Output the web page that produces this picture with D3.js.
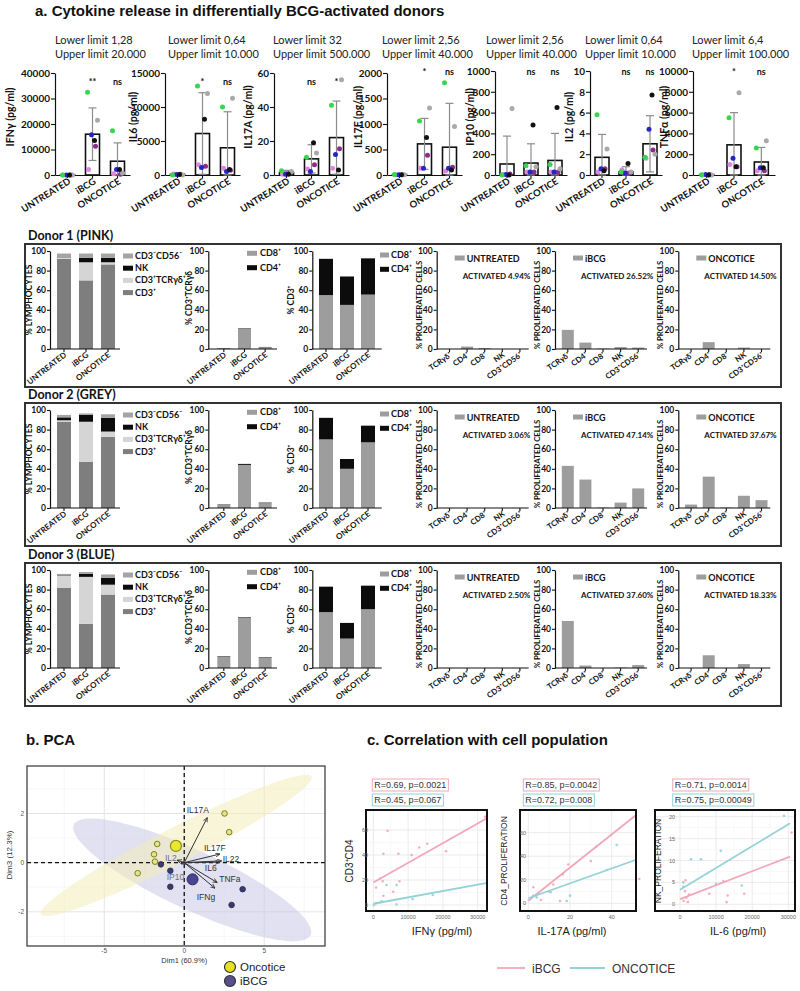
<!DOCTYPE html>
<html><head><meta charset="utf-8">
<script src="https://cdn.jsdelivr.net/npm/d3@7"></script>
<style>body{margin:0;background:#fff}svg{display:block}</style>
</head><body>
<svg id="c" width="800" height="991"></svg>
<script>
// ---------------- DATA ----------------
const treatments = ["UNTREATED","iBCG","ONCOTICE"];
const cytokines = ["IFNγ","IL6","IL17A","IL17F","IP10","IL2","TNFα"];
const lowerLimits = ["1,28","0,64","32","2,56","2,56","0,64","6,4"];
const upperLimits = ["20.000","10.000","500.000","40.000","40.000","10.000","100.000"];
const cytoMax = [40000,15000,60,2000,1000,10,10000];
const cytoStep = [10000,5000,20,500,200,2,2000];
const cytoMean = [[60,16000,5400],[100,6100,4000],[1.5,9.5,22],[10,610,545],[106,115,140],[1.7,0.3,3.0],[40,2900,1250]];
const cytoSD = [[80,10300,7200],[90,6000,5300],[1.2,8.3,21.5],[10,500,860],[268,185,260],[2.2,0.5,2.7],[50,3100,1400]];
const cytoSig = [["","**","ns"],["","*","ns"],["","ns","*"],["","*","ns"],["","ns","ns"],["","ns","ns"],["","*","ns"]];
const donorDotColors = ["#df86df","#8e2c8e","#2626c4","#a9a9a9","#35d84c","#111111"];
// [cytokine][treatment][donor: pink, purple, blue, grey, green, black]
const cytoDots = [
  [[0,0,0,0,0,0],[2200,11300,15800,21500,32500,13500],[500,300,2200,800,17400,2200]],
  [[150,100,80,0,0,60],[1500,1300,1100,12000,13100,8200],[1000,700,500,11300,10000,800]],
  [[0.5,1,0.5,2,2.5,0.5],[3.5,6,2,13,10.5,19],[4,15.5,12,56,41,3]],
  [[5,5,5,5,10,5],[130,385,130,1313,1058,737],[80,150,130,950,1808,100]],
  [[5,10,5,640,0,0],[30,30,30,80,90,480],[30,30,30,60,100,650]],
  [[0.3,0.6,0.6,2.5,5.8,0.4],[0.5,0.2,0.2,0.3,0.3,1.1],[1.6,2.4,4.4,2.0,1.7,7.7]],
  [[0,50,50,0,20,0],[1000,800,1600,7900,5500,800],[400,400,700,3300,2600,700]]
];

const donorLabels = ["Donor 1 (PINK)","Donor 2 (GREY)","Donor 3 (BLUE)"];
const lymphKeys = ["CD3⁺","CD3⁺TCRγδ⁺","NK","CD3⁻CD56⁻"];
const lymphColors = ["#7e7e7e","#d5d5d5","#0c0c0c","#a4a4a4"];
// [donor][treatment][CD3+, TCRgd, NK, CD3-CD56-]
const lymph = [
  [[92,1.5,0.3,3.6],[70,18.5,4.5,4.4],[86.3,2.2,4.5,4.4]],
  [[88,1.5,3,2.5],[47,41,7,1.5],[72.6,5.4,14,3.6]],
  [[82,12.5,0.8,0.7],[45,48,3,2],[75,10,7,3.5]]
];
const subsetKeys = ["CD8⁺","CD4⁺"];
const subsetColors = ["#9d9d9d","#0c0c0c"];
const gdVals = [
  [[0.8,0.2],[20.5,0.5],[1.8,0.3]],
  [[3,0.5],[44,1],[5,0.5]],
  [[11.5,0.5],[51.5,0.5],[10.5,0.5]]
];
const cd3Vals = [
  [[55,37],[45,29],[55.5,37]],
  [[70,22],[40,10],[67,17]],
  [[57,26],[30,16],[60,24]]
];
const prolifCats = ["TCRγδ⁺","CD4⁺","CD8⁺","NK","CD3⁺CD56⁺"];
// [donor][treatment][cat]
const prolif = [
  [[0,2.5,1,0,0],[19.5,6.5,0.5,2,1.5],[0,7,0,1.5,0]],
  [[0,0,0,0,0],[43,29,0.5,5.5,20],[3.5,32,0.5,12.5,8]],
  [[0,0,0,0,0],[48,2.5,0,0.5,3],[0,13,0,4,0]]
];
const activated = [["4.94%","26.52%","14.50%"],["3.06%","47.14%","37.67%"],["2.50%","37.60%","18.33%"]];

// PCA
const pcaOnco = [[2.52,2.0],[2.81,1.24],[-1.69,0.76],[-1.89,0.34],[-1.83,0.04],[-2.91,-0.43]];
const pcaBCG = [[-1.46,-0.07],[-0.87,-0.33],[-0.87,-0.98],[3.65,-1.08],[2.96,-1.72]];
const pcaOncoMean = [-0.52,0.68];
const pcaBCGMean = [0.52,-0.68];
const pcaVars = ["IL17A","IL17F","IL22","IL6","TNFa","IFNg","IL2","IP10"];
const pcaLoad = [[1.44,1.83],[2.23,0.35],[2.34,0.07],[2.23,0.02],[2.06,-0.81],[1.92,-1.04],[-0.45,0.1],[-0.2,-0.05]];
const pcaLabelPos = [[0.15,2.14],[1.23,0.61],[2.4,0.14],[1.29,-0.23],[2.19,-0.66],[0.78,-1.38],[-1.21,0.18],[-1.1,-0.57]];
// ellipse: centre, semi-axis vector a, semi-axis vector b (data units)
const ellOnco = [[-0.5,0.7],[8.46,2.8],[0.5,-0.64]];
const ellBCG = [[0.5,-0.7],[7.4,-2.24],[-0.75,-1.1]];

// Correlations
const corrXLabels = ["IFNγ (pg/ml)","IL-17A (pg/ml)","IL-6 (pg/ml)"];
const corrYLabels = ["CD3⁺CD4","CD4_PROLIFERATION","NK_PROLIFERATION"];
const corrStatsBCG = ["R=0.69, p=0.0021","R=0.85, p=0.0042","R=0.71, p=0.0014"];
const corrStatsOnco = ["R=0.45, p=0.067","R=0.72, p=0.008","R=0.75, p=0.00049"];
const corrXTicks = [[0,10000,20000,30000],[0,20,40],[0,10000,20000,30000]];
const corrYTicks = [[0,20,40,60],[0,20,40,60],[0,5,10,15,20]];
const corrFitBCG = [[[0,18],[32400,69]],[[0,2.2],[51.7,75]],[[0,1.2],[30500,10.9]]];
const corrFitOnco = [[[0,1],[32400,17.5]],[[0,4.3],[51.7,37]],[[0,3.3],[30500,18.5]]];
const corrPtsBCG = [
  [[32100,70.6],[20900,43],[15500,49],[13200,46],[11000,40],[7200,41],[2900,41],[4100,59.4],[1900,21],[780,14],[2900,7.4],[5700,10.6],[7500,19],[2700,19]],
  [[32.5,48],[30,36],[19.2,33],[16.5,24.6],[12,16],[6.1,2.8],[2.4,13.6],[15.2,2],[53.2,20.6],[4.8,8.5],[10,9.9]],
  [[30900,16.4],[12000,5.3],[8100,2.4],[13200,2],[12900,0.5],[17800,2.4],[1400,3],[1800,1.5],[2500,2.2],[1000,0.8],[2200,0.5],[1500,5.5]]
];
const corrPtsOnco = [
  [[6700,16],[3800,16],[6700,0.5],[11300,4.8],[17100,8],[780,1.4],[2000,2],[2500,3],[200,0]],
  [[42.4,49.5],[37.6,28.3],[10.7,9.3],[2.4,6.5],[18.4,2],[20,6.5],[4,5]],
  [[28800,20.2],[11300,12.2],[5800,10.3],[3050,10.3],[10000,4.6],[17100,4.3],[900,5],[900,4]]
];

// ---------------- DRAW ----------------
const svg = d3.select("#c");
const FL = "Lato, 'Open Sans', 'DejaVu Sans', sans-serif";
const FA = "'Liberation Sans', Arial, sans-serif";

function styleAxis(a, fs, fw, ff, col){
  a.attr("font-size",null).attr("font-family",null);
  a.select(".domain").attr("stroke","#111").attr("stroke-width",1.2);
  a.selectAll(".tick line").attr("stroke","#111").attr("stroke-width",1.1);
  a.selectAll(".tick text").attr("font-size",fs).attr("font-weight",fw).attr("font-family",ff).attr("fill",col||"#111");
}
function text(g,x,y,s,o={}){
  const t=g.append("text").attr("x",x).attr("y",y).text(s)
    .attr("font-family",o.ff||FL).attr("font-size",o.fs||10).attr("font-weight",o.fw||"normal")
    .attr("fill",o.fill||"#111").attr("text-anchor",o.anchor||"start");
  if(o.rot!==undefined){t.attr("x",null).attr("y",null).attr("transform",`translate(${x},${y}) rotate(${o.rot})`);}
  return t;
}

// Section titles
text(svg,35,16,"a. Cytokine release in differentially BCG-activated donors",{ff:FA,fs:15,fw:"bold"});
text(svg,26,745,"b. PCA",{ff:FA,fs:15,fw:"bold"});
text(svg,367,745,"c. Correlation with cell population",{ff:FA,fs:15,fw:"bold"});

// ----- cytokine panels -----
const CL = {x0:[55,165,274,387,495,590,693], w:[75,75,75,75,72,72,82], top:[73,73,73,73,71,71,71],
  bottom:175, limX:[55,168,273,382,486,585,692], ylabX:[14,137,252,362,474,573,668], sigY:[85,85,85,75,75,75,75]};
const dotJitter = [-4,3,-1,5,-5,2];
cytokines.forEach((name,i)=>{
  const g = svg.append("g");
  const x0 = CL.x0[i], w = CL.w[i], B = CL.bottom;
  const y = d3.scaleLinear().domain([0,cytoMax[i]]).range([B, CL.top[i]]);
  const x = d3.scaleBand().domain(treatments).range([x0, x0+w]);
  const cx = t => x(t)+x.bandwidth()/2;
  text(g,CL.limX[i],44,"Lower limit "+lowerLimits[i],{fs:11,fill:"#222"});
  text(g,CL.limX[i],58,"Upper limit "+upperLimits[i],{fs:11,fill:"#222"});
  const ya = g.append("g").attr("transform",`translate(${x0},0)`)
    .call(d3.axisLeft(y).tickValues(d3.range(0,cytoMax[i]+1e-9,cytoStep[i])).tickSize(4).tickSizeOuter(0).tickPadding(1).tickFormat(d3.format("d")));
  styleAxis(ya,10,"bold",FL);
  const xa = g.append("g").attr("transform",`translate(0,${B})`)
    .call(d3.axisBottom(x).tickSize(3).tickSizeOuter(0).tickFormat(""));
  styleAxis(xa,9,"bold",FL);
  treatments.forEach((t,j)=>{
    const m = cytoMean[i][j], sd = cytoSD[i][j];
    g.append("rect").attr("x",cx(t)-7).attr("width",14).attr("y",y(m)).attr("height",B-y(m))
      .attr("fill","none").attr("stroke","#111").attr("stroke-width",1.6);
    const lo = Math.max(0,m-sd), hi = m+sd;
    g.append("line").attr("x1",cx(t)).attr("x2",cx(t)).attr("y1",y(lo)).attr("y2",y(hi)).attr("stroke","#8c8c8c").attr("stroke-width",1.2);
    [lo,hi].forEach(v=>g.append("line").attr("x1",cx(t)-4).attr("x2",cx(t)+4).attr("y1",y(v)).attr("y2",y(v)).attr("stroke","#8c8c8c").attr("stroke-width",1.2));
    cytoDots[i][j].forEach((v,k)=>{
      g.append("circle").attr("cx",cx(t)+dotJitter[k]).attr("cy",y(v)).attr("r",2.5).attr("fill",donorDotColors[k]);
    });
    if(cytoSig[i][j]) text(g,cx(t),CL.sigY[i],cytoSig[i][j],{fs:9,fw:"bold",anchor:"middle"});
    text(g,cx(t)+4,B+8,t,{fs:9.5,fw:"bold",anchor:"end",rot:-32});
  });
  text(g,CL.ylabX[i],117,name+" (pg/ml)",{fs:10.5,fw:"bold",anchor:"middle",rot:-90});
});

// ----- donor rows -----
const donorTop = [244,403,563];
function stacked(g,T,o){
  const y = d3.scaleLinear().domain([0,100]).range([T+105,T+7]);
  const x = d3.scaleBand().domain(o.cats).range([o.r0,o.r1]);
  const rows = o.values.map((v,i)=>{const r={cat:o.cats[i]}; o.keys.forEach((k,j)=>r[k]=v[j]); return r;});
  const series = d3.stack().keys(o.keys)(rows);
  series.forEach((s,j)=>s.forEach(d=>{
    g.append("rect").attr("x",x(d.data.cat)+x.bandwidth()/2-o.barW/2).attr("width",o.barW)
      .attr("y",y(d[1])).attr("height",Math.max(0,y(d[0])-y(d[1]))).attr("fill",o.colors[j]);
  }));
  const ya = g.append("g").attr("transform",`translate(${o.axisX},0)`)
    .call(d3.axisLeft(y).tickValues(d3.range(0,101,20)).tickSize(3).tickSizeOuter(0).tickPadding(1));
  styleAxis(ya,8.5,"bold",FL);
  g.append("line").attr("x1",o.axisX).attr("x2",o.xEnd).attr("y1",y(0)).attr("y2",y(0)).attr("stroke","#111").attr("stroke-width",1.2);
  o.cats.forEach(c=>{
    const cx = x(c)+x.bandwidth()/2;
    g.append("line").attr("x1",cx).attr("x2",cx).attr("y1",y(0)).attr("y2",y(0)+3).attr("stroke","#111").attr("stroke-width",1.1);
    text(g,cx+3,y(0)+7,c,{fs:o.labFs||8,fw:"bold",anchor:"end",rot:o.rot||-38});
  });
  text(g,o.ylabX,T+o.ylabY,o.ylab,{fs:o.ylabFs||8.5,fw:"bold",anchor:"middle",rot:-90});
}
donorLabels.forEach((lab,d)=>{
  const T = donorTop[d];
  const g = svg.append("g");
  text(g,28,T-4,lab,{fs:12.5,fw:"bold"});
  g.append("rect").attr("x",25).attr("y",T).attr("width",756).attr("height",143).attr("fill","none").attr("stroke","#333").attr("stroke-width",2);
  // lymphocytes
  stacked(g,T,{cats:treatments,keys:lymphKeys,values:lymph[d],colors:lymphColors,r0:53,r1:119,barW:14,axisX:50,xEnd:120,ylab:"% LYMPHOCYTES",ylabX:32,ylabY:56});
  [3,2,1,0].forEach((k,n)=>{
    g.append("rect").attr("x",123).attr("y",T+12+n*12.2-2.5).attr("width",10).attr("height",5).attr("fill",lymphColors[k]);
    text(g,135,T+12+n*12.2+3,lymphKeys[k],{fs:9,fw:"bold"});
  });
  // gamma delta
  stacked(g,T,{cats:treatments,keys:subsetKeys,values:gdVals[d],colors:subsetColors,r0:213.5,r1:275.5,barW:13,axisX:208.3,xEnd:277,ylab:"% CD3⁺TCRγδ",ylabX:192,ylabY:54});
  subsetKeys.forEach((k,n)=>{
    g.append("rect").attr("x",247).attr("y",T+9.3+n*14.4-2.5).attr("width",10).attr("height",5).attr("fill",subsetColors[n]);
    text(g,260,T+9.3+n*14.4+3,k,{fs:9,fw:"bold"});
  });
  // CD3
  stacked(g,T,{cats:treatments,keys:subsetKeys,values:cd3Vals[d],colors:subsetColors,r0:315.5,r1:378.5,barW:14,axisX:312.3,xEnd:381.7,ylab:"% CD3⁺",ylabX:294,ylabY:56});
  subsetKeys.forEach((k,n)=>{
    g.append("rect").attr("x",380).attr("y",T+11+n*14.3-2.5).attr("width",9).attr("height",5).attr("fill",subsetColors[n]);
    text(g,391,T+11+n*14.3+3,k,{fs:9,fw:"bold"});
  });
  // proliferation
  [436.7,555,678.3].forEach((ax,t)=>{
    stacked(g,T,{cats:prolifCats,keys:["value"],values:prolif[d][t].map(v=>[v]),colors:["#9d9d9d"],r0:ax+4,r1:ax+92,barW:12,axisX:ax,xEnd:ax+92,ylab:"% PROLIFERATED  CELLS",ylabX:ax-15,ylabY:61,ylabFs:7.8,rot:-35,labFs:7.8});
    g.append("rect").attr("x",ax+18).attr("y",T+14-2.5).attr("width",10).attr("height",5).attr("fill","#9d9d9d");
    text(g,ax+30,T+17.5,treatments[t],{fs:9,fw:"bold"});
    text(g,ax+26,T+35,"ACTIVATED "+activated[d][t],{fs:8,fw:"bold"});
  });
});

// ----- PCA -----
(function(){
  const g = svg.append("g");
  const X0=27,X1=325,Y0=766,Y1=946;
  const x = d3.scaleLinear().domain([-9.83,8.8]).range([X0,X1]);
  const y = d3.scaleLinear().domain([-3.39,3.93]).range([Y1,Y0]);
  g.append("rect").attr("x",X0).attr("y",Y0).attr("width",X1-X0).attr("height",Y1-Y0).attr("fill","#fff");
  [-7.5,-2.5,2.5,7.5].forEach(v=>g.append("line").attr("x1",x(v)).attr("x2",x(v)).attr("y1",Y0).attr("y2",Y1).attr("stroke","#f2f2f2").attr("stroke-width",0.6));
  [-3,-1,1,3].forEach(v=>g.append("line").attr("y1",y(v)).attr("y2",y(v)).attr("x1",X0).attr("x2",X1).attr("stroke","#f2f2f2").attr("stroke-width",0.6));
  [-5,0,5].forEach(v=>g.append("line").attr("x1",x(v)).attr("x2",x(v)).attr("y1",Y0).attr("y2",Y1).attr("stroke","#e4e4e4").attr("stroke-width",1));
  [-2,0,2].forEach(v=>g.append("line").attr("y1",y(v)).attr("y2",y(v)).attr("x1",X0).attr("x2",X1).attr("stroke","#e4e4e4").attr("stroke-width",1));
  function ell(e,fill,op){
    const pts = d3.range(0,2*Math.PI+0.01,0.05).map(t=>[e[0][0]+Math.cos(t)*e[1][0]+Math.sin(t)*e[2][0], e[0][1]+Math.cos(t)*e[1][1]+Math.sin(t)*e[2][1]]);
    g.append("path").attr("d",d3.line().x(p=>x(p[0])).y(p=>y(p[1]))(pts)+"Z").attr("fill",fill).attr("fill-opacity",op).attr("stroke","none");
  }
  ell(ellBCG,"#c9c9e6",0.55);
  ell(ellOnco,"#f2edb8",0.55);
  g.append("line").attr("x1",x(0)).attr("x2",x(0)).attr("y1",Y0).attr("y2",Y1).attr("stroke","#111").attr("stroke-width",1.3).attr("stroke-dasharray","4,3");
  g.append("line").attr("y1",y(0)).attr("y2",y(0)).attr("x1",X0).attr("x2",X1).attr("stroke","#111").attr("stroke-width",1.3).attr("stroke-dasharray","4,3");
  pcaOnco.forEach(p=>g.append("circle").attr("cx",x(p[0])).attr("cy",y(p[1])).attr("r",2.8).attr("fill","#e3e38a").attr("stroke","#7f7f1e").attr("stroke-width",1));
  pcaBCG.forEach(p=>g.append("circle").attr("cx",x(p[0])).attr("cy",y(p[1])).attr("r",2.8).attr("fill","#3d3a6a").attr("stroke","#2a2850").attr("stroke-width",0.8));
  g.append("circle").attr("cx",x(pcaOncoMean[0])).attr("cy",y(pcaOncoMean[1])).attr("r",5.5).attr("fill","#e9e92c").attr("stroke","#8d8d1e").attr("stroke-width",1.2);
  g.append("circle").attr("cx",x(pcaBCGMean[0])).attr("cy",y(pcaBCGMean[1])).attr("r",5.5).attr("fill","#4a4590").attr("stroke","#2d2a60").attr("stroke-width",1);
  svg.append("defs").append("marker").attr("id","ah").attr("viewBox","0 0 10 10").attr("refX",9).attr("refY",5)
    .attr("markerWidth",5).attr("markerHeight",5).attr("orient","auto").append("path").attr("d","M0,1 L9,5 L0,9").attr("fill","none").attr("stroke","#333").attr("stroke-width",1.6);
  pcaVars.forEach((v,i)=>{
    g.append("line").attr("x1",x(0)).attr("y1",y(0)).attr("x2",x(pcaLoad[i][0])).attr("y2",y(pcaLoad[i][1]))
      .attr("stroke","#333").attr("stroke-width",1).attr("marker-end","url(#ah)");
    const grey = (v==="IL2"||v==="IP10");
    text(g,x(pcaLabelPos[i][0]),y(pcaLabelPos[i][1])+3,v,{ff:FA,fs:8.5,fill:grey?"#6e6e80":"#333"});
  });
  g.append("rect").attr("x",X0).attr("y",Y0).attr("width",X1-X0).attr("height",Y1-Y0).attr("fill","none").attr("stroke","#333").attr("stroke-width",1.2);
  [-5,0,5].forEach(v=>text(g,x(v),953,String(v),{ff:FA,fs:6.5,fill:"#555",anchor:"middle"}));
  [-2,0,2].forEach(v=>text(g,24,y(v)+2.5,String(v),{ff:FA,fs:6.5,fill:"#555",anchor:"end"}));
  text(g,x(0),963,"Dim1 (60.9%)",{ff:FA,fs:7.5,fill:"#333",anchor:"middle"});
  text(g,12,855,"Dim3 (12.3%)",{ff:FA,fs:8,fill:"#333",anchor:"middle",rot:-90});
  g.append("circle").attr("cx",230).attr("cy",967).attr("r",5.5).attr("fill","#e6df22").attr("stroke","#333").attr("stroke-width",1.2);
  g.append("circle").attr("cx",230).attr("cy",981).attr("r",5.5).attr("fill","#5b4e8e").attr("stroke","#333").attr("stroke-width",1.2);
  text(g,240,971,"Oncotice",{ff:FA,fs:11.5,fill:"#222"});
  text(g,240,985,"iBCG",{ff:FA,fs:11.5,fill:"#222"});
})();

// ----- Correlations -----
const PINK="#f2a7b8", BLUE="#93d2d8";
const CP = [
  {bx0:366,bx1:487,xp:[373.3,477.7],yp:[905,830],ylX:353,xlX:442,ytX:368,rX:372.3},
  {bx0:520,bx1:636,xp:[528.3,611.7],yp:[903.3,832.7],ylX:507,xlX:572,ytX:526,rX:523.3},
  {bx0:655,bx1:795,xp:[680,788.3],yp:[904.3,816.7],ylX:661,xlX:738,ytX:675,rX:672.7}
];
corrXLabels.forEach((lab,i)=>{
  const g = svg.append("g"), L = CP[i];
  const xt = corrXTicks[i], yt = corrYTicks[i];
  const x = d3.scaleLinear().domain([0,xt[xt.length-1]]).range(L.xp);
  const y = d3.scaleLinear().domain([0,yt[yt.length-1]]).range(L.yp);
  const BY0=810, BY1=911;
  xt.forEach(v=>g.append("line").attr("x1",x(v)).attr("x2",x(v)).attr("y1",BY0).attr("y2",BY1).attr("stroke","#e6e6e6").attr("stroke-width",0.8));
  yt.forEach(v=>g.append("line").attr("y1",y(v)).attr("y2",y(v)).attr("x1",L.bx0).attr("x2",L.bx1).attr("stroke","#e6e6e6").attr("stroke-width",0.8));
  for(let k=0;k<xt.length-1;k++){const m=(xt[k]+xt[k+1])/2; g.append("line").attr("x1",x(m)).attr("x2",x(m)).attr("y1",BY0).attr("y2",BY1).attr("stroke","#f3f3f3").attr("stroke-width",0.6);}
  for(let k=0;k<yt.length-1;k++){const m=(yt[k]+yt[k+1])/2; g.append("line").attr("y1",y(m)).attr("y2",y(m)).attr("x1",L.bx0).attr("x2",L.bx1).attr("stroke","#f3f3f3").attr("stroke-width",0.6);}
  corrPtsBCG[i].forEach(p=>g.append("circle").attr("cx",x(p[0])).attr("cy",y(p[1])).attr("r",1.3).attr("fill",PINK).attr("opacity",0.9));
  corrPtsOnco[i].forEach(p=>g.append("circle").attr("cx",x(p[0])).attr("cy",y(p[1])).attr("r",1.3).attr("fill",BLUE).attr("opacity",0.9));
  const ln = d3.line().x(p=>x(p[0])).y(p=>y(p[1]));
  g.append("path").attr("d",ln(corrFitBCG[i])).attr("stroke",PINK).attr("stroke-width",1.8).attr("fill","none");
  g.append("path").attr("d",ln(corrFitOnco[i])).attr("stroke",BLUE).attr("stroke-width",1.8).attr("fill","none");
  g.append("rect").attr("x",L.bx0).attr("y",BY0).attr("width",L.bx1-L.bx0).attr("height",BY1-BY0).attr("fill","none").attr("stroke","#111").attr("stroke-width",2);
  xt.forEach(v=>text(g,x(v),919,String(v),{ff:FA,fs:5.5,fill:"#666",anchor:"middle"}));
  yt.forEach(v=>text(g,L.ytX,y(v)+2,String(v),{ff:FA,fs:5.5,fill:"#666",anchor:"end"}));
  text(g,L.xlX,935,lab,{ff:FA,fs:11,fill:"#222",anchor:"middle"});
  text(g,L.ylX,861,corrYLabels[i],{ff:FA,fs:i===0?10:8.5,fill:"#222",anchor:"middle",rot:-90});
  [[corrStatsBCG[i],PINK,785],[corrStatsOnco[i],BLUE,800]].forEach(([s,c,yy])=>{
    const t = text(g,L.rX+2,yy+3.2,s,{ff:FA,fs:9,fill:"#333"});
    const w = t.node().getComputedTextLength();
    g.insert("rect","text").attr("x",L.rX).attr("y",yy-6).attr("width",w+4).attr("height",12).attr("fill","#fff").attr("stroke",c).attr("stroke-width",1);
  });
});
// legend
(function(){
  const g = svg.append("g");
  g.append("line").attr("x1",497).attr("x2",525).attr("y1",968).attr("y2",968).attr("stroke",PINK).attr("stroke-width",1.8);
  text(g,532,972.5,"iBCG",{ff:FA,fs:12,fill:"#333"});
  g.append("line").attr("x1",570).attr("x2",605).attr("y1",968).attr("y2",968).attr("stroke",BLUE).attr("stroke-width",1.8);
  text(g,612,972.5,"ONCOTICE",{ff:FA,fs:12,fill:"#333"});
})();
</script>
</body></html>
